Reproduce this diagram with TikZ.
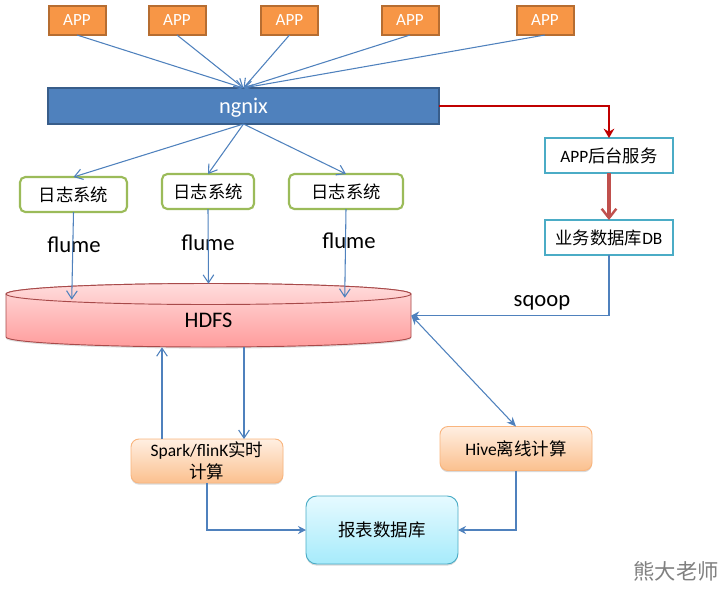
\documentclass[tikz,border=0pt]{standalone}
\usepackage{fontspec}
\setmainfont{Carlito}
\newfontfamily\cjkf{Noto Sans CJK SC}
\newcommand\zh[1]{{\cjkf #1}}
\usetikzlibrary{arrows.meta,shadows,positioning,calc}
\definecolor{lineblue}{HTML}{4F81BD}
\definecolor{apporange}{HTML}{F79646}
\definecolor{appedge}{HTML}{B66D31}
\definecolor{ngedge}{HTML}{385D8A}
\definecolor{loggreen}{HTML}{9BBB59}
\definecolor{svcblue}{HTML}{4BACC6}
\definecolor{darkred}{HTML}{C00000}
\definecolor{softred}{HTML}{C0504D}
\definecolor{hdfsedge}{HTML}{A84A4A}
\definecolor{hdfstop}{HTML}{FFDCDC}
\definecolor{hdfsbot}{HTML}{FF9C9C}
\definecolor{hdfslidb}{HTML}{FFC8C8}
\definecolor{softtop}{HTML}{FFEFE2}
\definecolor{softbot}{HTML}{FBC08E}
\definecolor{reptop}{HTML}{E6FAFF}
\definecolor{repbot}{HTML}{A6EBFB}
\tikzset{
  box/.style={inner sep=0pt,outer sep=0pt,align=center},
  appbox/.style={box,draw=appedge,line width=1.5pt,fill=apporange,text=white,font=\fontsize{12.8}{15}\selectfont,minimum height=29*0.75pt,minimum width=57*0.75pt},
  logbox/.style={box,draw=loggreen,line width=1.6pt,fill=white,rounded corners=4pt,font=\fontsize{13}{15}\selectfont},
  svcbox/.style={box,draw=svcblue,line width=1.6pt,fill=white,font=\fontsize{13}{15}\selectfont,minimum width=128*0.75pt,minimum height=35*0.75pt},
  softbox/.style={box,rounded corners=6pt,draw=#1,line width=.7pt,drop shadow={opacity=.3,shadow xshift=0pt,shadow yshift=-1.2pt},font=\fontsize{13.1}{16.5}\selectfont},
  link/.style={draw=lineblue,line width=.8pt,-{Straight Barb[length=6pt,width=8pt,line width=.8pt]}},
  solidlink/.style={draw=lineblue,line width=.8pt,-{Stealth[length=6pt,width=6pt]}},
  tag/.style={inner sep=0pt,font=\fontsize{17}{20}\selectfont},
}
\begin{document}
\begin{tikzpicture}[x=0.75pt,y=-0.75pt]
\useasboundingbox (0,0) rectangle (726,590);
% APP boxes
\node[appbox] (a1) at (77,20.5) {APP};
\node[appbox] (a2) at (177,20.5) {APP};
\node[appbox] (a3) at (289.5,20.5) {APP};
\node[appbox] (a4) at (410,20.5) {APP};
\node[appbox] (a5) at (545,20.5) {APP};
% ngnix
\node[box,draw=ngedge,line width=1.5pt,fill=lineblue,text=white,minimum width=391*0.75pt,minimum height=36*0.75pt,text height=11.5pt,text depth=0pt,font=\fontsize{16.8}{19}\selectfont] (ng) at (243.5,106) {ngnix};
% logs
\node[logbox,minimum width=107*0.75pt,minimum height=35*0.75pt] (l1) at (73.5,194.5) {\zh{日志系统}};
\node[logbox,minimum width=92*0.75pt,minimum height=35*0.75pt] (l2) at (208,191.5) {\zh{日志系统}};
\node[logbox,minimum width=114*0.75pt,minimum height=35*0.75pt] (l3) at (346,191.5) {\zh{日志系统}};
% services
\node[svcbox] (svc) at (609,155.5) {APP\zh{后台服务}};
\node[svcbox] (db) at (609,237.5) {\zh{业务数据库}DB};
% HDFS
\path[draw=hdfsedge,line width=.7pt,top color=hdfstop,bottom color=hdfsbot,drop shadow={opacity=.25,shadow xshift=0pt,shadow yshift=-1.2pt}]
  (6,294) -- (6,337) arc[start angle=180,end angle=0,x radius=202.5,y radius=10] -- (411,294) arc[start angle=0,end angle=-180,x radius=202.5,y radius=10.5] -- cycle;
\path[draw=hdfsedge,line width=.7pt,top color=hdfstop,bottom color=hdfslidb]
  (208.5,294) ellipse[x radius=202.5,y radius=10.5];
\node[inner sep=0pt,minimum width=405*0.75pt,minimum height=63*0.75pt] (hdfs) at (208.5,315.5) {};
\node[inner sep=0pt,font=\fontsize{16.7}{19}\selectfont] (hdfstext) at (208.5,320.5) {HDFS};
% compute
\node[softbox=apporange!70!white,top color=softtop,bottom color=softbot,minimum width=152*0.75pt,minimum height=44*0.75pt,text width=140*0.75pt] (spark) at (207,461) {Spark/flinK\zh{实时}\\\zh{计算}};
\node[softbox=apporange!70!white,top color=softtop,bottom color=softbot,minimum width=152*0.75pt,minimum height=44*0.75pt] (hive) at (516,448.5) {Hive\zh{离线计算}};
\node[softbox=svcblue,top color=reptop,bottom color=repbot,minimum width=152*0.75pt,minimum height=68*0.75pt,rounded corners=8pt] (rep) at (382,530) {\zh{报表数据库}};
% labels
\node[tag] (f1) at (74,244.5) {flume};
\node[tag] (f2) at (208,242.5) {flume};
\node[tag] (f3) at (349,241) {flume};
\node[tag] (sq) at (542,303) {sqoop};
\node[inner sep=0pt,text=black!50,font=\cjkf\fontsize{16}{18}\selectfont] (wm) at (676,571) {熊大老师};
% connectors
\coordinate (ngtop) at (ng.north);
\coordinate (ngbot) at (ng.south);
\draw[link] (a1.south) -- (ngtop);
\draw[link] (a2.south) -- (ngtop);
\draw[link] (a3.south) -- (ngtop);
\draw[link] (a4.south) -- (ngtop);
\draw[link] (a5.south) -- (ngtop);
\draw[link] (ngbot) -- (l1.north);
\draw[link] (ngbot) -- (l2.north);
\draw[link] (ngbot) -- (l3.north);
\draw[link] (l1.south) -- ($(hdfs.north west)+(66,16)$);
\draw[link] (l2.south) -- (hdfs.north);
\draw[link] (l3.south) -- ($(hdfs.north west)+(339,14)$);
\draw[draw=darkred,line width=2.1pt,-{Stealth[length=7pt,width=8pt]}] (ng.east) -| (svc.north);
\draw[draw=softred,line width=2.4pt,-{Straight Barb[length=7pt,width=11pt,line width=1.8pt]}] (svc.south) -- (db.north);
\draw[solidlink] (db.south) |- (hdfs.east);
\draw[draw=lineblue,line width=.8pt,{Stealth[length=7pt,width=6pt]}-{Stealth[length=7pt,width=6pt]}] (hdfs.east) -- (hive.north);
\draw[link] ($(spark.north)+(-45,0)$) -- ($(hdfs.south)+(-46.5,0)$);
\draw[link] ($(hdfs.south)+(35.5,0)$) -- ($(spark.north)+(37,0)$);
\draw[solidlink] (spark.south) |- (rep.west);
\draw[solidlink] (hive.south) |- (rep.east);
\end{tikzpicture}
\end{document}
